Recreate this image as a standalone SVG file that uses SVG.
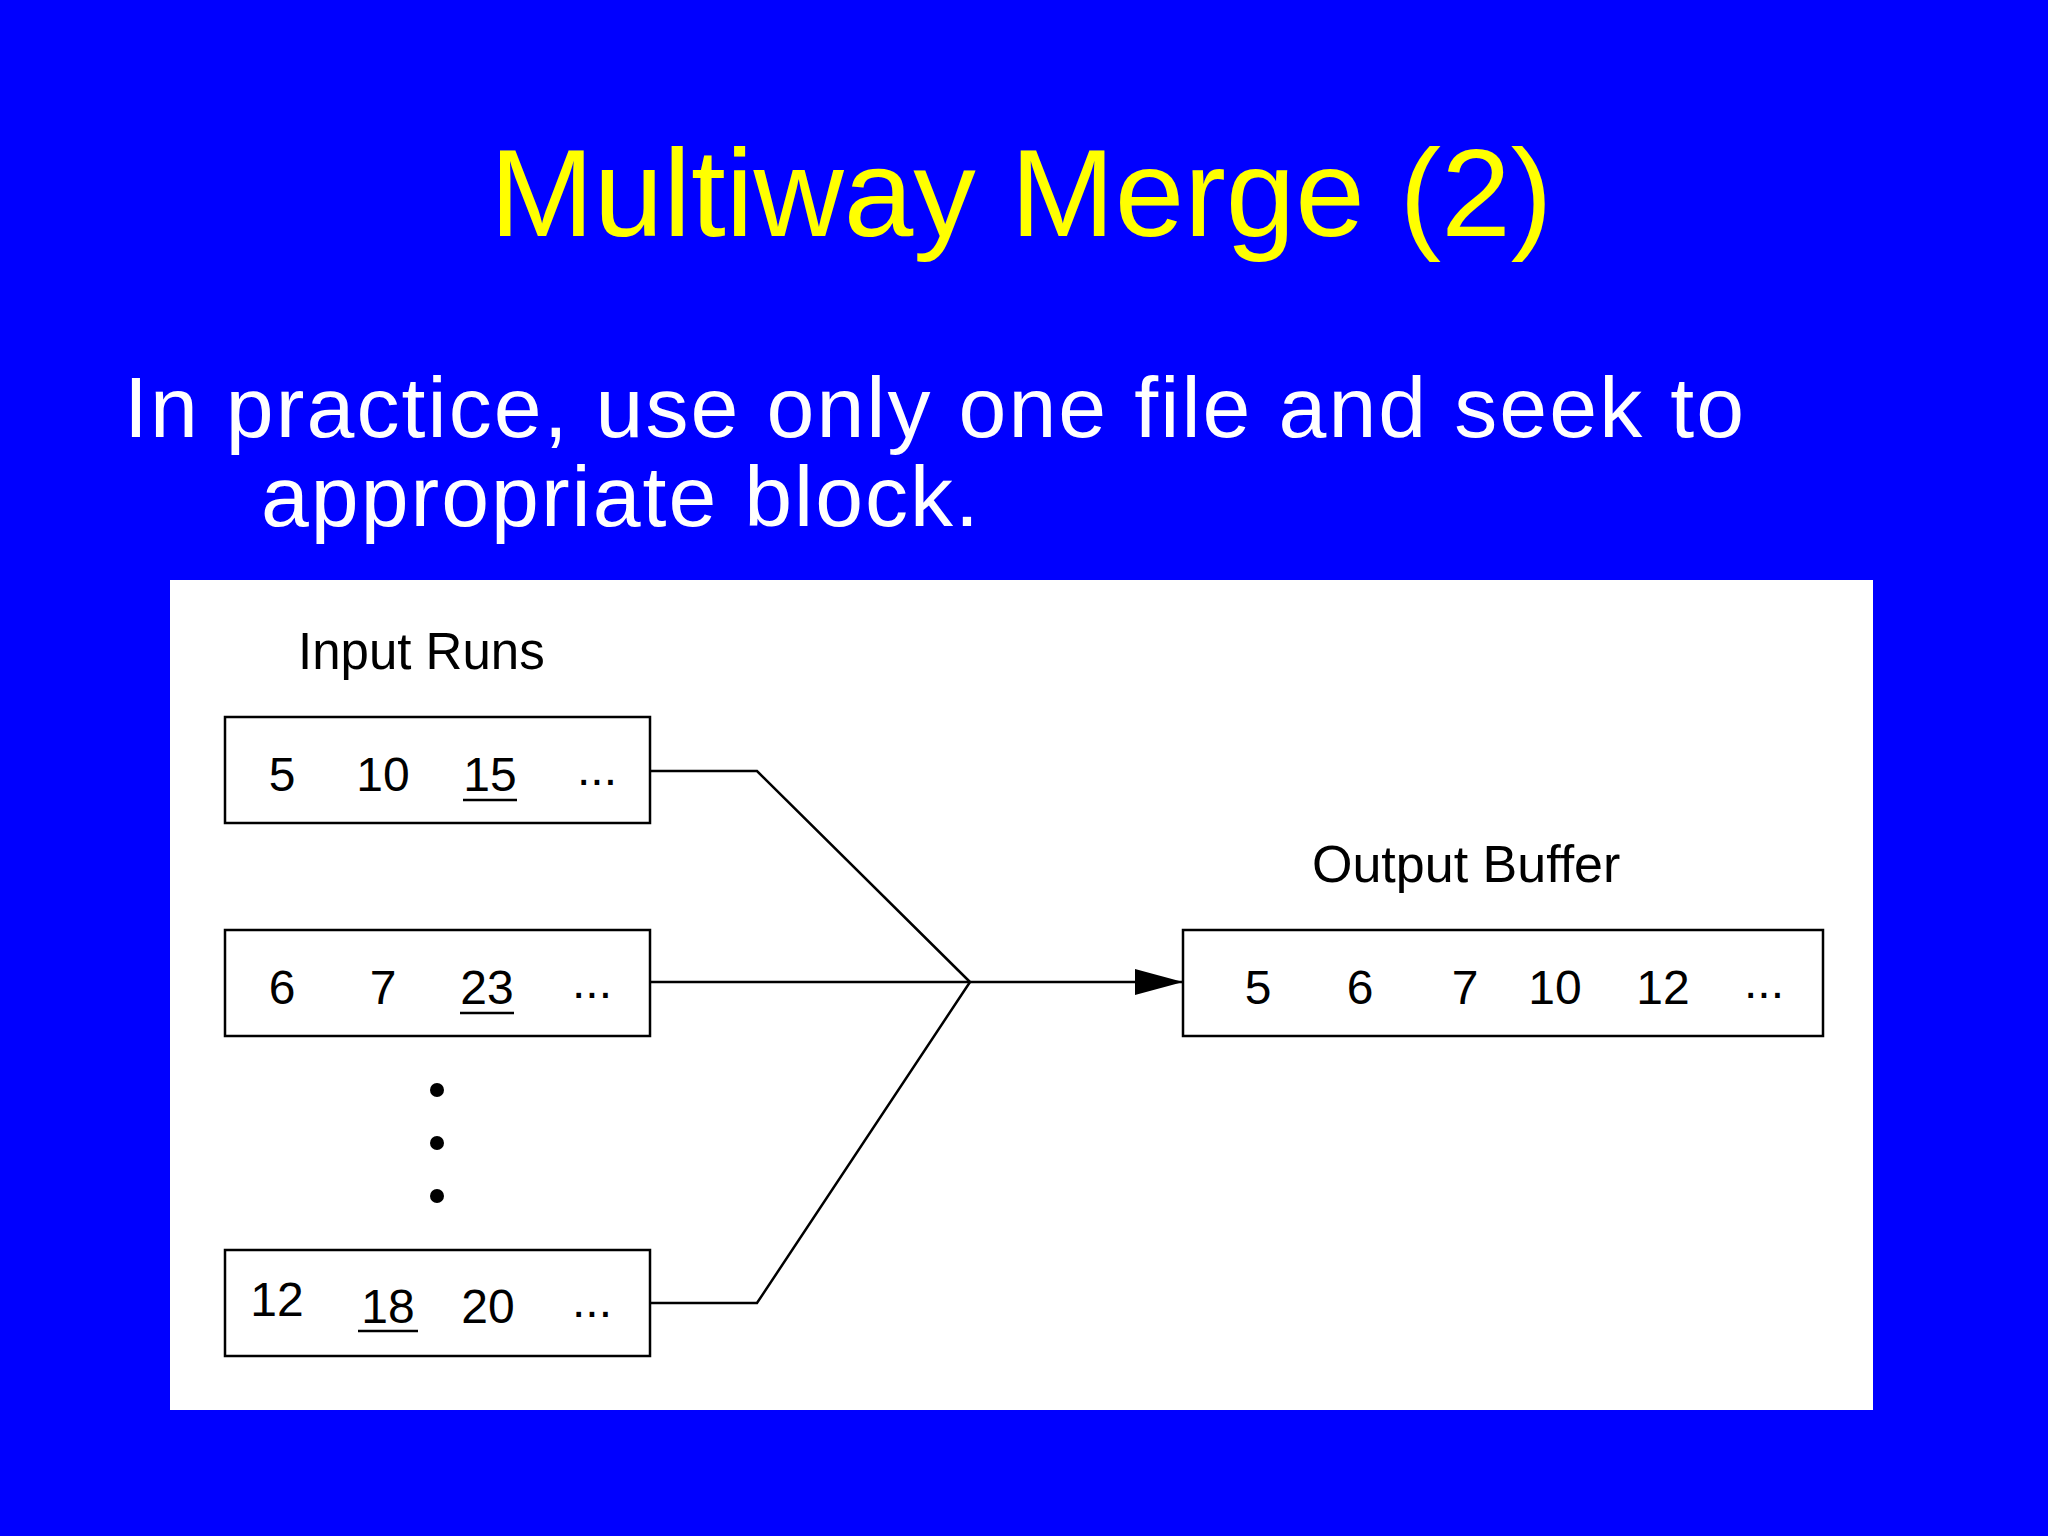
<svg xmlns="http://www.w3.org/2000/svg" width="2048" height="1536" viewBox="0 0 2048 1536">
<style>
.t{font-family:"Liberation Sans",Arial,sans-serif}
.n{font-family:"Liberation Sans",Arial,sans-serif;font-size:48px;fill:#000;text-anchor:middle}
.box{fill:#fff;stroke:#000;stroke-width:2.5}
.ln{fill:none;stroke:#000;stroke-width:2.5}
.u{stroke:#000;stroke-width:2.5}
</style>
<defs><marker id="ar" markerWidth="48" markerHeight="26" refX="48" refY="13" orient="auto" markerUnits="userSpaceOnUse"><path d="M0,0 L48,13 L0,26 Z" fill="#000"/></marker></defs>
<rect width="2048" height="1536" fill="#0000ff"/>
<text class="t" x="1021" y="236" font-size="125" fill="#ffff00" text-anchor="middle">Multiway Merge (2)</text>
<text class="t" x="124" y="437" font-size="86" fill="#fff" textLength="1620" lengthAdjust="spacing">In practice, use only one file and seek to</text>
<text class="t" x="261" y="526" font-size="86" fill="#fff" textLength="718" lengthAdjust="spacing">appropriate block.</text>
<rect x="170" y="580" width="1703" height="830" fill="#fff"/>
<text class="t" x="298" y="669" font-size="51">Input Runs</text>
<text class="t" x="1312" y="882" font-size="52">Output Buffer</text>
<g id="connectors">
<polyline class="ln" points="650,771 757,771 970,982"/>
<line class="ln" x1="650" y1="982" x2="970" y2="982"/>
<polyline class="ln" points="650,1303 757,1303 970,982"/>
<line class="ln" x1="970" y1="982" x2="1183" y2="982" marker-end="url(#ar)"/>
</g>
<g id="run1"><rect class="box" x="225" y="717" width="425" height="106"/>
<text class="n" x="282" y="791">5</text><text class="n" x="383" y="791">10</text><text class="n" x="490" y="791">15</text><line class="u" x1="463" y1="800" x2="517" y2="800"/><text class="n" x="597" y="785">...</text></g>
<g id="run2"><rect class="box" x="225" y="930" width="425" height="106"/>
<text class="n" x="282" y="1004">6</text><text class="n" x="383" y="1004">7</text><text class="n" x="487" y="1004">23</text><line class="u" x1="460" y1="1013" x2="514" y2="1013"/><text class="n" x="592" y="998">...</text></g>
<g id="dots"><circle cx="437" cy="1090" r="7"/><circle cx="437" cy="1143" r="7"/><circle cx="437" cy="1196" r="7"/></g>
<g id="run3"><rect class="box" x="225" y="1250" width="425" height="106"/>
<text class="n" x="277" y="1316">12</text><text class="n" x="388" y="1323">18</text><line class="u" x1="358" y1="1331" x2="418" y2="1331"/><text class="n" x="488" y="1323">20</text><text class="n" x="592" y="1317">...</text></g>
<g id="output"><rect class="box" x="1183" y="930" width="640" height="106"/>
<text class="n" x="1258" y="1004">5</text><text class="n" x="1360" y="1004">6</text><text class="n" x="1465" y="1004">7</text><text class="n" x="1555" y="1004">10</text><text class="n" x="1663" y="1004">12</text><text class="n" x="1764" y="998">...</text></g>
</svg>
